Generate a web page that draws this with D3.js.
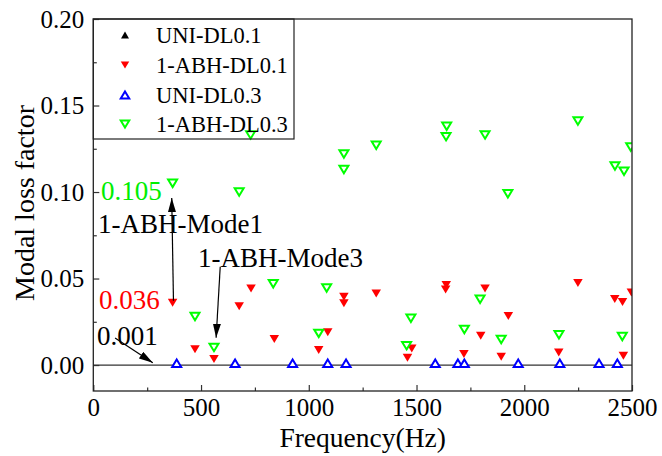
<!DOCTYPE html>
<html>
<head>
<meta charset="utf-8">
<script src="https://cdn.jsdelivr.net/npm/d3@7.9.0/dist/d3.min.js"></script>
<style>
  body { margin: 0; background: #fff; }
  svg { display: block; }
  svg text { font-family: "Liberation Serif", "Times New Roman", serif; }
</style>
</head>
<body>
<script>
// Axis ticks
const xTicks = [0, 500, 1000, 1500, 2000, 2500];
const xMinor = [250, 750, 1250, 1750, 2250];
const yTicks = [0, 0.05, 0.10, 0.15, 0.20];
const yMinor = [0.025, 0.075, 0.125, 0.175];

// Series: [frequency (Hz), modal loss factor]
const uniDL01 = [[387,0.001],[658,0.001],[925,0.001],[1088,0.001],[1173,0.001],[1587,0.001],
  [1692,0.001],[1722,0.001],[1972,0.001],[2165,0.001],[2347,0.001],[2432,0.001]];
const abhDL01 = [[368,0.036],[472,0.0091],[560,0.0035],[677,0.034],[732,0.0443],[840,0.015],
  [1046,0.0087],[1088,0.019],[1163,0.0395],[1163,0.0357],[1313,0.0414],[1458,0.0042],
  [1478,0.0096],[1638,0.0462],[1635,0.0437],[1720,0.0064],[1798,0.0169],[1818,0.0443],
  [1893,0.0048],[1926,0.0284],[2160,0.0072],[2249,0.0474],[2420,0.0381],[2456,0.0364],
  [2460,0.0054],[2497,0.042]];
const uniDL03 = [[387,0.001],[658,0.001],[925,0.001],[1088,0.001],[1173,0.001],[1587,0.001],
  [1692,0.001],[1722,0.001],[1972,0.001],[2165,0.001],[2347,0.001],[2432,0.001]];
const abhDL03 = [[368,0.105],[472,0.028],[560,0.0102],[677,0.100],[730,0.133],[835,0.047],
  [1046,0.0183],[1083,0.0445],[1163,0.122],[1163,0.113],[1313,0.127],[1454,0.0112],
  [1474,0.027],[1640,0.138],[1637,0.132],[1722,0.0205],[1795,0.038],[1818,0.133],
  [1893,0.0148],[1924,0.099],[2161,0.0175],[2249,0.141],[2421,0.115],[2455,0.0165],
  [2463,0.112],[2494,0.126]];

const seriesNames = ["UNI-DL0.1", "1-ABH-DL0.1", "UNI-DL0.3", "1-ABH-DL0.3"];

// Annotations in data units
const noteTexts = [
  { text: "0.105", f: 36, v: 0.1009, color: "#00ee00" },
  { text: "1-ABH-Mode1", f: 22, v: 0.0819, color: "#000" },
  { text: "1-ABH-Mode3", f: 486, v: 0.0622, color: "#000" },
  { text: "0.036", f: 27, v: 0.0376, color: "#ff0000" },
  { text: "0.001", f: 17, v: 0.0173, color: "#000" }
];
const noteArrows = [
  { f1: 372, v1: 0.0372, f2: 364, v2: 0.0965 },
  { f1: 589, v1: 0.0568, f2: 570, v2: 0.0158 },
  { f1: 101, v1: 0.0156, f2: 276, v2: 0.0013 }
];

const width = 662, height = 456;
const plot = { left: 93.3, right: 632, top: 19, bottom: 391 };
const serif = "'Liberation Serif', 'Times New Roman', serif";

const x = d3.scaleLinear().domain([0, 2500]).range([plot.left, plot.right]);
const y = d3.scaleLinear().domain([-0.015, 0.2]).range([plot.bottom, plot.top]);

const svg = d3.select("body").append("svg")
  .attr("width", width)
  .attr("height", height);

const defs = svg.append("defs");
defs.append("clipPath").attr("id", "plot-clip")
  .append("rect")
  .attr("x", plot.left).attr("y", plot.top)
  .attr("width", plot.right - plot.left).attr("height", plot.bottom - plot.top);

defs.append("marker")
  .attr("id", "arrow")
  .attr("markerUnits", "userSpaceOnUse")
  .attr("viewBox", "0 0 14 8")
  .attr("refX", 14).attr("refY", 4)
  .attr("markerWidth", 14).attr("markerHeight", 8)
  .attr("orient", "auto")
  .append("path")
  .attr("d", "M0,0 L14,4 L0,8 Z")
  .attr("fill", "#000");

// Triangle paths centred on (0,0)
const triUp = (w, h) => `M0,${-h / 2} L${w / 2},${h / 2} L${-w / 2},${h / 2} Z`;
const triDown = (w, h) => `M0,${h / 2} L${w / 2},${-h / 2} L${-w / 2},${-h / 2} Z`;

const styles = [
  { d: triUp(10, 8.5), fill: "#000", stroke: "none", sw: 0, legendD: triUp(8, 7) },
  { d: triDown(9.5, 8), fill: "#ff0000", stroke: "none", sw: 0, legendD: triDown(8.5, 7) },
  { d: triUp(9, 7.5), fill: "#fff", stroke: "#0000ff", sw: 2, legendD: triUp(8.5, 7) },
  { d: triDown(9, 7.5), fill: "#fff", stroke: "#00ff00", sw: 2, legendD: triDown(8.5, 7) }
];

// Ticks (inside)
svg.append("g").attr("transform", `translate(0,${plot.bottom})`)
  .call(d3.axisBottom(x).tickValues(xTicks).tickSize(-6).tickPadding(7).tickFormat(d3.format("d")));
svg.append("g").attr("transform", `translate(0,${plot.bottom})`)
  .call(d3.axisBottom(x).tickValues(xMinor).tickSize(-3.5).tickFormat(""));
svg.append("g").attr("transform", `translate(${plot.left},0)`)
  .call(d3.axisLeft(y).tickValues(yTicks).tickSize(-6).tickPadding(9).tickFormat(d3.format(".2f")));
svg.append("g").attr("transform", `translate(${plot.left},0)`)
  .call(d3.axisLeft(y).tickValues(yMinor).tickSize(-3.5).tickFormat(""));

svg.selectAll(".domain").remove();
svg.selectAll("g").attr("font-family", null).attr("font-size", null);
svg.selectAll(".tick line").attr("stroke", "#333").attr("stroke-width", 1.2);
svg.selectAll(".tick text")
  .attr("fill", "#000")
  .attr("font-family", serif)
  .attr("font-size", 25);

// Zero line
svg.append("line")
  .attr("x1", x(0)).attr("x2", x(2500))
  .attr("y1", y(0)).attr("y2", y(0))
  .attr("stroke", "#333").attr("stroke-width", 1.2);

// Points
const allSeries = [uniDL01, abhDL01, uniDL03, abhDL03];
const pts = svg.append("g").attr("clip-path", "url(#plot-clip)");
allSeries.forEach((data, i) => {
  const s = styles[i];
  pts.append("g").selectAll("path")
    .data(data)
    .enter().append("path")
    .attr("d", s.d)
    .attr("transform", d => `translate(${x(d[0])},${y(d[1])})`)
    .attr("fill", s.fill)
    .attr("stroke", s.stroke)
    .attr("stroke-width", s.sw);
});

// Frame
svg.append("rect")
  .attr("x", plot.left).attr("y", plot.top)
  .attr("width", plot.right - plot.left).attr("height", plot.bottom - plot.top)
  .attr("fill", "none").attr("stroke", "#222").attr("stroke-width", 1.3);

// Legend
const legend = svg.append("g");
legend.append("rect")
  .attr("x", plot.left).attr("y", plot.top)
  .attr("width", 294 - plot.left).attr("height", 139 - plot.top)
  .attr("fill", "none").attr("stroke", "#222").attr("stroke-width", 1.2);
const legendRows = [35, 65, 95, 124];
seriesNames.forEach((name, i) => {
  const s = styles[i];
  legend.append("path")
    .attr("d", s.legendD)
    .attr("transform", `translate(125,${legendRows[i]})`)
    .attr("fill", s.fill).attr("stroke", s.stroke).attr("stroke-width", s.sw);
  legend.append("text")
    .attr("x", 156).attr("y", legendRows[i])
    .attr("dy", "0.35em")
    .attr("font-family", serif)
    .attr("font-size", 22.5)
    .text(name);
});

// Annotations
noteArrows.forEach(a => {
  svg.append("line")
    .attr("x1", x(a.f1)).attr("y1", y(a.v1))
    .attr("x2", x(a.f2)).attr("y2", y(a.v2))
    .attr("stroke", "#000").attr("stroke-width", 1.2)
    .attr("marker-end", "url(#arrow)");
});
noteTexts.forEach(t => {
  svg.append("text")
    .attr("x", x(t.f)).attr("y", y(t.v))
    .attr("dy", "0.35em")
    .attr("fill", t.color)
    .attr("font-family", serif)
    .attr("font-size", 27)
    .text(t.text);
});

// Axis titles
svg.append("text")
  .attr("x", (plot.left + plot.right) / 2).attr("y", 447)
  .attr("text-anchor", "middle")
  .attr("font-family", serif)
  .attr("font-size", 27.5)
  .text("Frequency(Hz)");
svg.append("text")
  .attr("transform", `translate(24,${(plot.top + plot.bottom) / 2 - 2}) rotate(-90)`)
  .attr("text-anchor", "middle")
  .attr("dy", "0.35em")
  .attr("font-family", serif)
  .attr("font-size", 28)
  .text("Modal loss factor");
</script>
</body>
</html>
